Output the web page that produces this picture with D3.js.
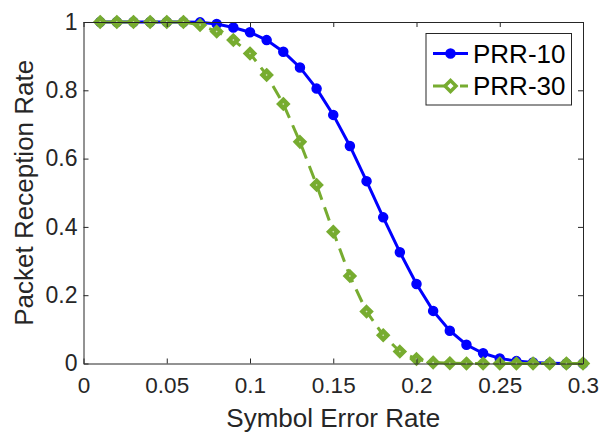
<!DOCTYPE html>
<html>
<head>
<meta charset="utf-8">
<script src="https://cdn.jsdelivr.net/npm/d3@7"></script>
<style>
  body { margin: 0; background: #fff; }
  svg { display: block; font-family: "Liberation Sans", Arial, sans-serif; }
</style>
</head>
<body>
<script>
// data
const ser = [0.01, 0.02, 0.03, 0.04, 0.05, 0.06, 0.07, 0.08, 0.09, 0.10,
             0.11, 0.12, 0.13, 0.14, 0.15, 0.16, 0.17, 0.18, 0.19, 0.20,
             0.21, 0.22, 0.23, 0.24, 0.25, 0.26, 0.27, 0.28, 0.29, 0.30];
const prr10 = [1, 1, 1, 1, 1, 1, 0.999, 0.994, 0.984, 0.970,
               0.947, 0.913, 0.867, 0.805, 0.728, 0.637, 0.534, 0.428, 0.326, 0.233,
               0.154, 0.096, 0.055, 0.030, 0.015, 0.007, 0.003, 0.001, 0, 0];
const prr30 = [1, 1, 1, 1, 1, 1, 0.991, 0.972, 0.947, 0.908,
               0.845, 0.760, 0.649, 0.523, 0.386, 0.256, 0.152, 0.083, 0.035, 0.013,
               0.003, 0.001, 0, 0, 0, 0, 0, 0, 0, 0];
const xTicks = [0, 0.05, 0.1, 0.15, 0.2, 0.25, 0.3];
const yTicks = [0, 0.2, 0.4, 0.6, 0.8, 1];
const seriesNames = ["PRR-10", "PRR-30"];

const W = 600, H = 432;
const m = { left: 83.5, right: 17, top: 22, bottom: 68.5 };
const axisColor = "#262626";
const blue = "#0000ff", green = "#77ac30";

const svg = d3.select("body").append("svg")
  .attr("width", W).attr("height", H);

const x = d3.scaleLinear().domain([0, 0.3]).range([m.left, W - m.right]);
const y = d3.scaleLinear().domain([0, 1]).range([H - m.bottom, m.top]);

const fmt = d => d === 0 ? "0" : String(d);
const diamond = (cx, cy, r) => `M${cx},${cy - r}L${cx + r},${cy}L${cx},${cy + r}L${cx - r},${cy}Z`;

const line = d3.line().x(d => x(d[0])).y(d => y(d[1]));
const d10 = ser.map((s, i) => [s, prr10[i]]);
const d30 = ser.map((s, i) => [s, prr30[i]]);

// PRR-10
svg.append("path").datum(d10).attr("d", line)
  .attr("fill", "none").attr("stroke", blue).attr("stroke-width", 3);
svg.append("g").selectAll("circle").data(d10).join("circle")
  .attr("cx", d => x(d[0])).attr("cy", d => y(d[1])).attr("r", 4.5)
  .attr("fill", blue).attr("stroke", blue).attr("stroke-width", 1.5);

// PRR-30
svg.append("path").datum(d30).attr("d", line)
  .attr("fill", "none").attr("stroke", green).attr("stroke-width", 3)
  .attr("stroke-dasharray", "14,8");
const dm = svg.append("g");
dm.selectAll("path.mk").data(d30).join("path").attr("class", "mk")
  .attr("d", d => diamond(x(d[0]), y(d[1]), 5.5))
  .attr("fill", green).attr("stroke", green).attr("stroke-width", 2.5);
dm.selectAll("path.ctr").data(d30).join("path").attr("class", "ctr")
  .attr("d", d => diamond(x(d[0]), y(d[1]), 1))
  .attr("fill", "#fff").attr("opacity", 0.7);

// axes on top of the data (ticks point inwards, box on all sides)
const gx = svg.append("g").attr("transform", `translate(0,${y(0)})`)
  .call(d3.axisBottom(x).tickValues(xTicks).tickFormat(fmt).tickSizeInner(-5).tickSizeOuter(0).tickPadding(14));
const gxt = svg.append("g").attr("transform", `translate(0,${y(1)})`)
  .call(d3.axisTop(x).tickValues(xTicks).tickFormat("").tickSizeInner(-5).tickSizeOuter(0));
const gy = svg.append("g").attr("transform", `translate(${x(0)},0)`)
  .call(d3.axisLeft(y).tickValues(yTicks).tickFormat(fmt).tickSizeInner(-5).tickSizeOuter(0).tickPadding(6));
const gyr = svg.append("g").attr("transform", `translate(${x(0.3)},0)`)
  .call(d3.axisRight(y).tickValues(yTicks).tickFormat("").tickSizeInner(-5).tickSizeOuter(0));

[gx, gxt, gy, gyr].forEach(g => {
  g.selectAll("path.domain").attr("stroke", axisColor).attr("stroke-width", 1);
  g.selectAll(".tick line").attr("stroke", axisColor).attr("stroke-width", 1);
  g.selectAll(".tick text").attr("fill", axisColor).attr("font-size", 23)
    .attr("font-family", "Liberation Sans, Arial, sans-serif");
});
gx.selectAll(".tick text").attr("font-size", 22.5);

// axis titles
svg.append("text")
  .attr("x", (x(0) + x(0.3)) / 2).attr("y", 426.5)
  .attr("text-anchor", "middle").attr("font-size", 26).attr("fill", axisColor)
  .text("Symbol Error Rate");
svg.append("text")
  .attr("transform", `translate(33,${(y(0) + y(1)) / 2}) rotate(-90)`)
  .attr("text-anchor", "middle").attr("font-size", 26).attr("fill", axisColor)
  .text("Packet Reception Rate");

// legend
const lg = svg.append("g");
lg.append("rect").attr("x", 426).attr("y", 33.5).attr("width", 145.5).attr("height", 71.5)
  .attr("fill", "#fff").attr("stroke", axisColor).attr("stroke-width", 1);
const rows = [53.5, 86];
lg.append("line").attr("x1", 433).attr("x2", 468).attr("y1", rows[0]).attr("y2", rows[0])
  .attr("stroke", blue).attr("stroke-width", 3);
lg.append("circle").attr("cx", 450.5).attr("cy", rows[0]).attr("r", 4.5)
  .attr("fill", blue).attr("stroke", blue).attr("stroke-width", 1.5);
lg.append("line").attr("x1", 433).attr("x2", 468).attr("y1", rows[1]).attr("y2", rows[1])
  .attr("stroke", green).attr("stroke-width", 3).attr("stroke-dasharray", "22,5,8");
lg.append("path").attr("d", diamond(450.5, rows[1], 5.5))
  .attr("fill", "#fff").attr("stroke", green).attr("stroke-width", 3.5);
lg.selectAll("text.lbl").data(seriesNames).join("text")
  .attr("x", 473).attr("y", (d, i) => rows[i] + 9)
  .attr("font-size", 26).attr("fill", "#000")
  .text(d => d);
</script>
</body>
</html>
